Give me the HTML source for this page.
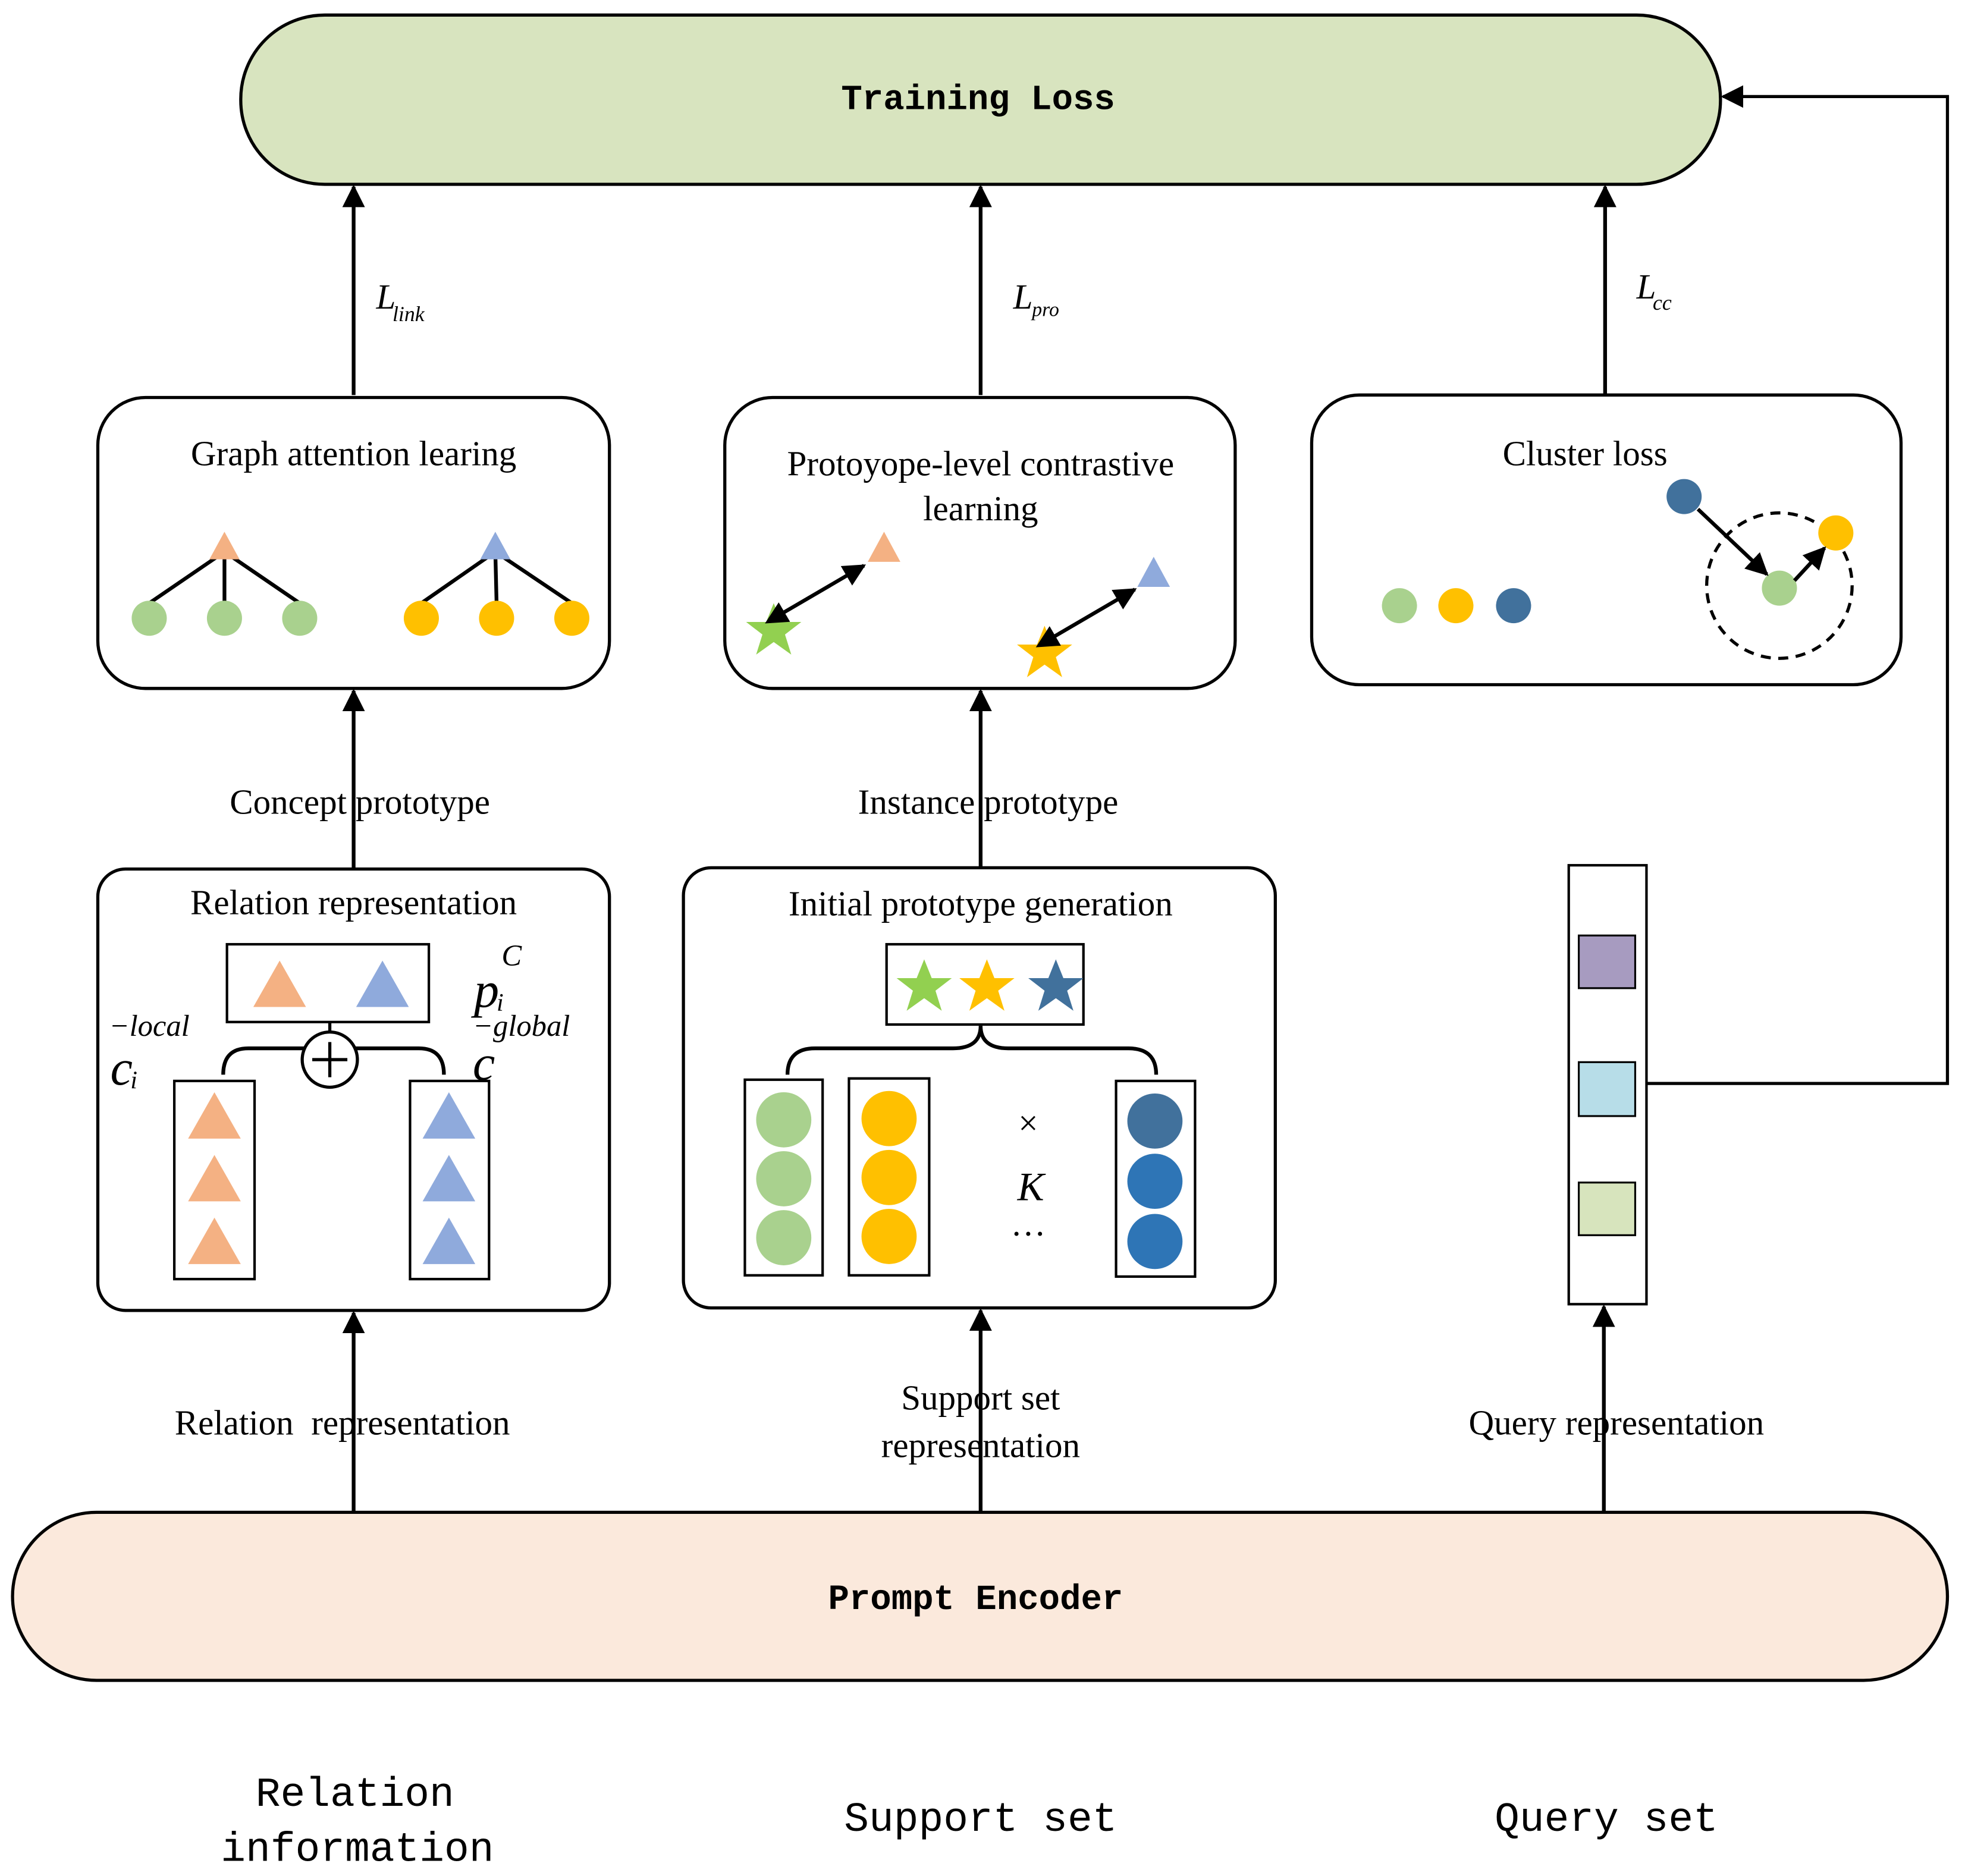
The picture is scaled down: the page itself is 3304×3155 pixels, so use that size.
<!DOCTYPE html>
<html><head><meta charset="utf-8"><style>
html,body{margin:0;padding:0;background:#fff;}
svg{display:block;}
.s{font-family:"Liberation Serif",serif;font-size:28px;fill:#000;}
.m{font-family:"Liberation Mono",monospace;fill:#000;}
.i{font-family:"Liberation Serif",serif;font-style:italic;fill:#000;}
</style></head><body>
<svg width="3304" height="3155" viewBox="0 0 1567 1496" preserveAspectRatio="none" xmlns="http://www.w3.org/2000/svg">
<defs>
<marker id="b" viewBox="0 0 10 10" refX="9" refY="5" markerWidth="18" markerHeight="20" markerUnits="userSpaceOnUse" orient="auto"><path d="M0,0 L10,5 L0,10 z" fill="#000"/></marker>
<marker id="c" viewBox="0 0 10 10" refX="1" refY="5" markerWidth="18" markerHeight="20" markerUnits="userSpaceOnUse" orient="auto-start-reverse"><path d="M0,0 L10,5 L0,10 z" fill="#000"/></marker>
<g id="star"><polygon points="0,-22 6,-7 22,-7 9,3 14,19 0,9 -14,19 -9,3 -22,-7 -6,-7"/></g>
</defs>
<g stroke="#000" stroke-width="2.5" fill="none">
<rect x="192" y="12" width="1180" height="135" rx="67" fill="#d8e4bf"/>
<rect x="10" y="1206" width="1543" height="134" rx="67" fill="#fbe9dc"/>
<rect x="78" y="317" width="408" height="232" rx="38" fill="#fff"/>
<rect x="578" y="317" width="407" height="232" rx="38" fill="#fff"/>
<rect x="1046" y="315" width="470" height="231" rx="38" fill="#fff"/>
<rect x="78" y="693" width="408" height="352" rx="22" fill="#fff"/>
<rect x="545" y="692" width="472" height="351" rx="22" fill="#fff"/>
</g>
<g stroke="#000" stroke-width="3" fill="none">
<line x1="282" y1="315" x2="282" y2="149" marker-end="url(#b)"/>
<line x1="782" y1="315" x2="782" y2="149" marker-end="url(#b)"/>
<line x1="1280" y1="315" x2="1280" y2="149" marker-end="url(#b)"/>
<line x1="282" y1="692" x2="282" y2="551" marker-end="url(#b)"/>
<line x1="782" y1="692" x2="782" y2="551" marker-end="url(#b)"/>
<line x1="282" y1="1205" x2="282" y2="1047" marker-end="url(#b)"/>
<line x1="782" y1="1205" x2="782" y2="1045" marker-end="url(#b)"/>
<line x1="1279" y1="1205" x2="1279" y2="1042" marker-end="url(#b)"/>
<polyline points="1313,864 1553,864 1553,77 1374,77" marker-end="url(#b)" stroke-width="2.5"/>
</g>
<text class="m" x="780" y="87" font-size="28" font-weight="bold" text-anchor="middle">Training Loss</text>
<text class="m" x="778" y="1283" font-size="28" font-weight="bold" text-anchor="middle">Prompt Encoder</text>
<text class="m" x="283" y="1440" font-size="33" text-anchor="middle">Relation</text>
<text class="m" x="285" y="1484" font-size="33" text-anchor="middle">information</text>
<text class="m" x="782" y="1460" font-size="33" text-anchor="middle">Support set</text>
<text class="m" x="1281" y="1460" font-size="33" text-anchor="middle">Query set</text>
<text class="i" x="300" y="246" font-size="28">L</text><text class="i" x="313" y="256" font-size="17">link</text>
<text class="i" x="808" y="246" font-size="28">L</text><text class="i" x="823" y="252" font-size="16">pro</text>
<text class="i" x="1305" y="238" font-size="28">L</text><text class="i" x="1318" y="247" font-size="17">cc</text>
<text class="s" x="287" y="649" text-anchor="middle">Concept prototype</text>
<text class="s" x="788" y="649" text-anchor="middle">Instance prototype</text>
<text class="s" x="273" y="1144" text-anchor="middle">Relation&#160; representation</text>
<text class="s" x="782" y="1124" text-anchor="middle">Support set</text>
<text class="s" x="782" y="1162" text-anchor="middle">representation</text>
<text class="s" x="1289" y="1144" text-anchor="middle">Query representation</text>
<text class="s" x="282" y="371" text-anchor="middle">Graph attention learing</text>
<g stroke="#000" stroke-width="3">
<line x1="179" y1="440" x2="119" y2="481"/><line x1="179" y1="440" x2="179" y2="481"/><line x1="179" y1="440" x2="239" y2="481"/>
<line x1="395" y1="440" x2="336" y2="481"/><line x1="395" y1="440" x2="396" y2="481"/><line x1="395" y1="440" x2="456" y2="481"/>
</g>
<polygon points="179,424 167,446 191,446" fill="#f4b183"/>
<polygon points="395,424 383,446 407,446" fill="#8faadc"/>
<g fill="#a9d18e"><circle cx="119" cy="493" r="14"/><circle cx="179" cy="493" r="14"/><circle cx="239" cy="493" r="14"/></g>
<g fill="#ffc000"><circle cx="336" cy="493" r="14"/><circle cx="396" cy="493" r="14"/><circle cx="456" cy="493" r="14"/></g>
<text class="s" x="782" y="379" text-anchor="middle">Protoyope-level contrastive</text>
<text class="s" x="782" y="415" text-anchor="middle">learning</text>
<polygon points="705,424 692,448 718,448" fill="#f4b183"/>
<polygon points="920,444 907,468 933,468" fill="#8faadc"/>
<use href="#star" x="617" y="503" fill="#92d050"/>
<use href="#star" x="833" y="521" fill="#ffc000"/>
<g stroke="#000" stroke-width="3">
<line x1="624" y1="489" x2="689" y2="451" marker-start="url(#c)" marker-end="url(#b)"/>
<line x1="840" y1="508" x2="905" y2="470" marker-start="url(#c)" marker-end="url(#b)"/>
</g>
<text class="s" x="1264" y="371" text-anchor="middle">Cluster loss</text>
<circle cx="1116" cy="483" r="14" fill="#a9d18e"/>
<circle cx="1161" cy="483" r="14" fill="#ffc000"/>
<circle cx="1207" cy="483" r="14" fill="#41719c"/>
<circle cx="1419" cy="467" r="58" fill="none" stroke="#000" stroke-width="2.5" stroke-dasharray="8,6"/>
<circle cx="1343" cy="396" r="14" fill="#41719c"/>
<circle cx="1419" cy="469" r="14" fill="#a9d18e"/>
<circle cx="1464" cy="425" r="14" fill="#ffc000"/>
<g stroke="#000" stroke-width="3">
<line x1="1354" y1="406" x2="1409" y2="458" marker-end="url(#b)"/>
<line x1="1431" y1="463" x2="1455" y2="437" marker-end="url(#b)"/>
</g>
<text class="s" x="282" y="729" text-anchor="middle">Relation representation</text>
<rect x="181" y="753" width="161" height="62" fill="#fff" stroke="#000" stroke-width="2"/>
<polygon points="223,766 202,803 244,803" fill="#f4b183"/>
<polygon points="305,766 284,803 326,803" fill="#8faadc"/>
<path d="M178,857 Q178,836 198,836 L246,836 M280,836 L334,836 Q354,836 354,857" fill="none" stroke="#000" stroke-width="3"/>
<line x1="263" y1="815" x2="263" y2="823" stroke="#000" stroke-width="2.5"/>
<circle cx="263" cy="845" r="22" fill="#fff" stroke="#000" stroke-width="2.5"/>
<line x1="249" y1="845" x2="277" y2="845" stroke="#000" stroke-width="2.5"/><line x1="263" y1="831" x2="263" y2="859" stroke="#000" stroke-width="2.5"/>
<rect x="139" y="862" width="64" height="158" fill="#fff" stroke="#000" stroke-width="2"/>
<rect x="327" y="862" width="63" height="158" fill="#fff" stroke="#000" stroke-width="2"/>
<g fill="#f4b183"><polygon points="171,871 150,908 192,908"/><polygon points="171,921 150,958 192,958"/><polygon points="171,971 150,1008 192,1008"/></g>
<g fill="#8faadc"><polygon points="358,871 337,908 379,908"/><polygon points="358,921 337,958 379,958"/><polygon points="358,971 337,1008 379,1008"/></g>
<text class="i" x="87" y="826" font-size="24">−local</text>
<text class="i" x="88" y="865" font-size="40">c</text><text class="i" x="104" y="868" font-size="20">i</text>
<text class="i" x="378" y="803" font-size="40">p</text><text class="i" x="396" y="806" font-size="20">i</text><text class="i" x="400" y="770" font-size="24">C</text>
<text class="i" x="377" y="826" font-size="24">−global</text>
<text class="i" x="377" y="861" font-size="40">c</text>
<text class="s" x="782" y="730" text-anchor="middle">Initial prototype generation</text>
<rect x="707" y="753" width="157" height="64" fill="#fff" stroke="#000" stroke-width="2"/>
<use href="#star" x="737" y="787" fill="#92d050"/>
<use href="#star" x="787" y="787" fill="#ffc000"/>
<use href="#star" x="842" y="787" fill="#41719c"/>
<path d="M628,857 Q628,836 650,836 L760,836 Q782,836 782,818 Q782,836 804,836 L900,836 Q922,836 922,857" fill="none" stroke="#000" stroke-width="3"/>
<rect x="594" y="861" width="62" height="156" fill="#fff" stroke="#000" stroke-width="2"/>
<rect x="677" y="860" width="64" height="157" fill="#fff" stroke="#000" stroke-width="2"/>
<rect x="890" y="862" width="63" height="156" fill="#fff" stroke="#000" stroke-width="2"/>
<g fill="#a9d18e"><circle cx="625" cy="893" r="22"/><circle cx="625" cy="940" r="22"/><circle cx="625" cy="987" r="22"/></g>
<g fill="#ffc000"><circle cx="709" cy="892" r="22"/><circle cx="709" cy="939" r="22"/><circle cx="709" cy="986" r="22"/></g>
<circle cx="921" cy="894" r="22" fill="#41719c"/><circle cx="921" cy="942" r="22" fill="#2e75b6"/><circle cx="921" cy="990" r="22" fill="#2e75b6"/>
<text class="s" x="820" y="905" text-anchor="middle" font-size="30">×</text>
<text class="i" x="822" y="957" text-anchor="middle" font-size="32">K</text>
<text class="s" x="820" y="985" text-anchor="middle" font-size="26">…</text>
<rect x="1251" y="690" width="62" height="350" fill="#fff" stroke="#000" stroke-width="2"/>
<rect x="1259" y="746" width="45" height="42" fill="#a79bc0" stroke="#000" stroke-width="1.5"/>
<rect x="1259" y="847" width="45" height="43" fill="#b7dde8" stroke="#000" stroke-width="1.5"/>
<rect x="1259" y="943" width="45" height="42" fill="#d7e4bd" stroke="#000" stroke-width="1.5"/>
</svg>
</body></html>
